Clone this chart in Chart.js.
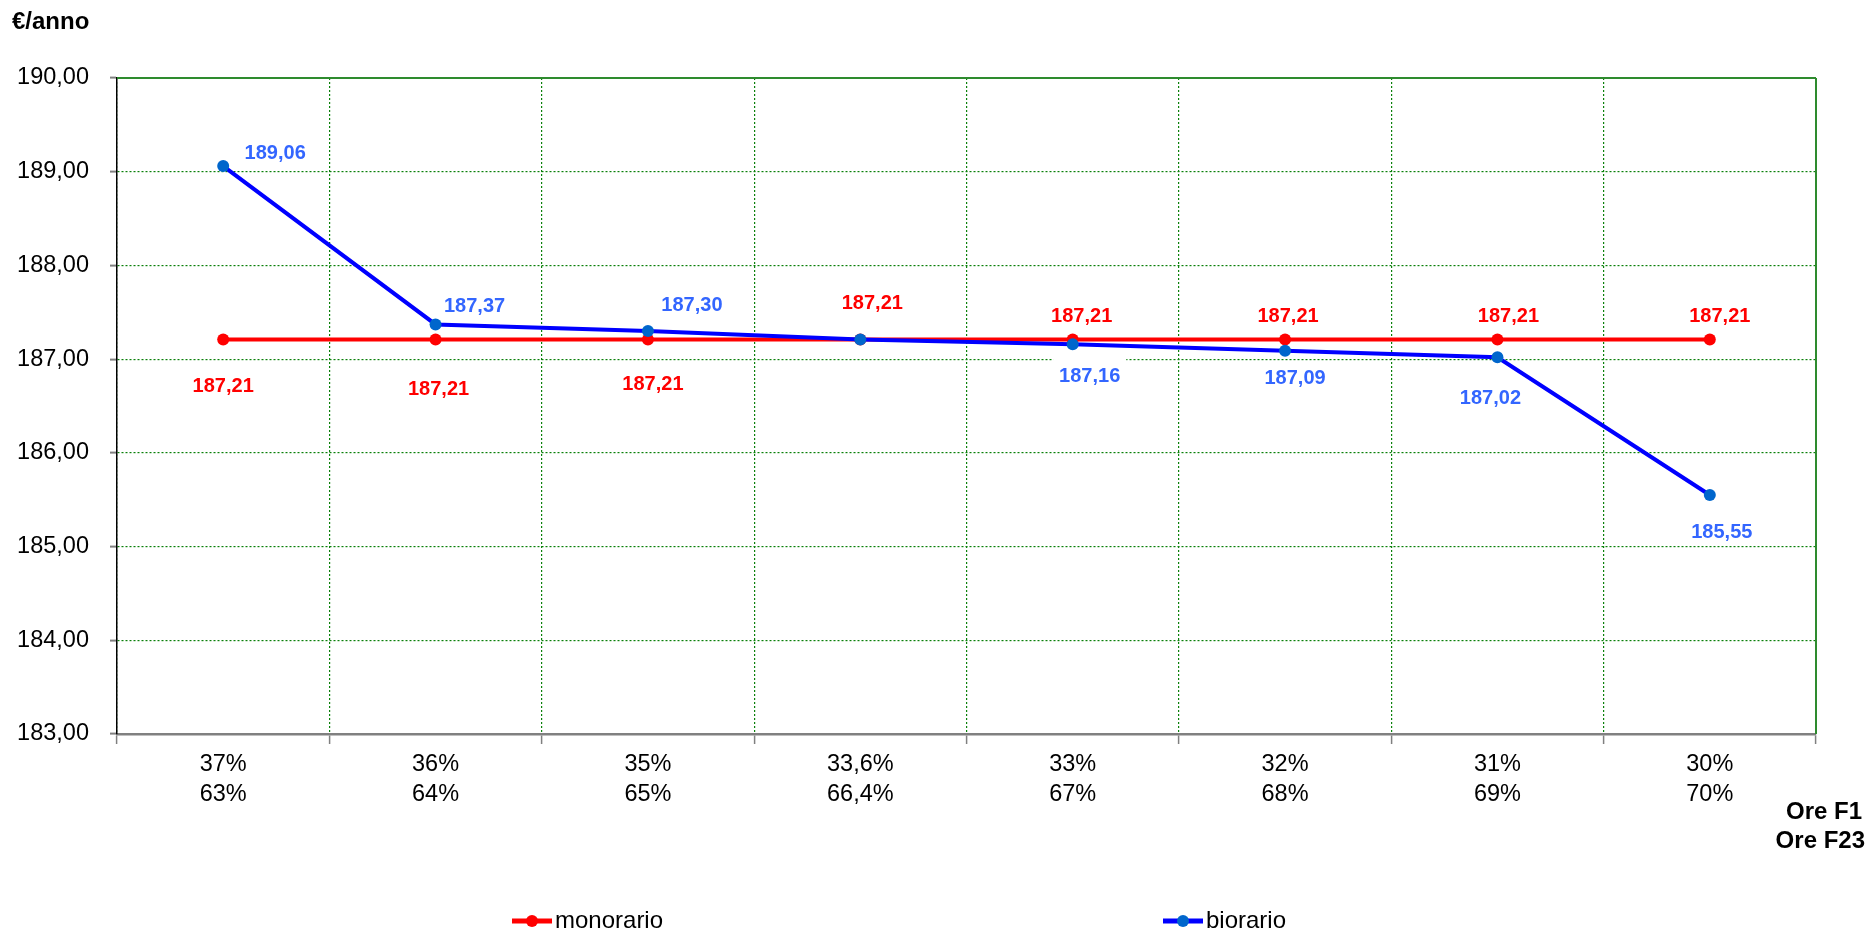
<!DOCTYPE html>
<html><head><meta charset="utf-8">
<script src="https://cdn.jsdelivr.net/npm/chart.js@4.4.0/dist/chart.umd.min.js"></script>
<style>html,body{margin:0;padding:0;background:#fff;overflow:hidden}#wrap{width:1870px;height:932px;position:relative}</style>
</head><body><div id="wrap"><canvas id="c" width="1870" height="932"></canvas></div>
<script>
// ---- data ----
const oreF1 = ['37%','36%','35%','33,6%','33%','32%','31%','30%'];
const oreF23 = ['63%','64%','65%','66,4%','67%','68%','69%','70%'];
const monorario = [187.21,187.21,187.21,187.21,187.21,187.21,187.21,187.21];
const biorario = [189.06,187.37,187.30,187.21,187.16,187.09,187.02,185.55];
const yMin = 183, yMax = 190, yStep = 1;
const yAxisTitle = '€/anno';
const xAxisTitle = ['Ore F1','Ore F23'];
const seriesNames = ['monorario','biorario'];

const FONT = '"Liberation Sans", Arial, sans-serif';
const fmt = v => v.toFixed(2).replace('.', ',');
const categories = oreF1.map((a,i)=>[a, oreF23[i]]);

// label placement (offsets from point, px): [dx, dy, whiteBackground]
const monoLabelPos = [[0,47],[3,50],[5,45],[12,-36],[9,-23],[3,-23],[11,-23],[10,-23]];
const bioLabelPos = [[52,-13],[39,-18],[44,-26],null,[17,32,true],[10,28],[-7,41],[12,37]];

const valueLabels = {
  id:'valueLabels',
  afterDatasetsDraw(chart){
    const ctx = chart.ctx;
    chart.data.datasets.forEach((ds,di)=>{
      const meta = chart.getDatasetMeta(di);
      meta.data.forEach((pt,i)=>{
        const off = ds.labelPos[i]; if(!off) return;
        const x = pt.x+off[0], y = pt.y+off[1];
        const txt = fmt(ds.data[i]);
        ctx.save();
        ctx.font = 'bold 20px '+FONT;
        ctx.textAlign='center'; ctx.textBaseline='middle';
        if(off[2]){
          const w = ctx.measureText(txt).width;
          ctx.fillStyle='#fff'; ctx.fillRect(x-w/2-6, y-18, w+12, 36);
        }
        ctx.fillStyle = ds.labelColor;
        ctx.fillText(txt, x, y);
        ctx.restore();
      });
    });
  }
};

const frame = {
  id:'frame',
  beforeDatasetsDraw(chart){
    const {ctx, chartArea:a} = chart;
    ctx.save();
    ctx.strokeStyle='#2e8b2e'; ctx.lineWidth=2;
    ctx.beginPath(); ctx.moveTo(a.left, a.top); ctx.lineTo(a.right, a.top);
    ctx.moveTo(a.right, a.top); ctx.lineTo(a.right, a.bottom); ctx.stroke();
    ctx.restore();
  },
  afterDraw(chart){
    const {ctx} = chart;
    ctx.save();
    ctx.fillStyle='#000';
    ctx.font='bold 24px '+FONT;
    ctx.textAlign='left'; ctx.textBaseline='middle';
    ctx.fillText(yAxisTitle, 12, 22);
    ctx.textAlign='right';
    ctx.fillText(xAxisTitle[0], 1862, 812);
    ctx.fillText(xAxisTitle[1], 1865, 841);
    // legend
    const lx = [512, 1163], ly = 921;
    chart.data.datasets.forEach((ds,i)=>{
      ctx.strokeStyle = ds.borderColor; ctx.lineWidth = 5;
      ctx.beginPath(); ctx.moveTo(lx[i], ly); ctx.lineTo(lx[i]+40, ly); ctx.stroke();
      ctx.fillStyle = ds.pointBackgroundColor;
      ctx.beginPath(); ctx.arc(lx[i]+20, ly, 6, 0, Math.PI*2); ctx.fill();
      ctx.fillStyle='#000'; ctx.font='24px '+FONT; ctx.textAlign='left';
      ctx.fillText(ds.label, lx[i]+43, ly);
    });
    ctx.restore();
  }
};

new Chart(document.getElementById('c'), {
  type:'line',
  data:{
    labels: categories,
    datasets:[
      {label:seriesNames[0], data:monorario, borderColor:'#ff0000', backgroundColor:'#ff0000',
       pointBackgroundColor:'#ff0000', pointBorderColor:'#ff0000', borderWidth:4, pointRadius:6, pointBorderWidth:0,
       tension:0, order:2, labelColor:'#ff0000', labelPos:monoLabelPos},
      {label:seriesNames[1], data:biorario, borderColor:'#0000ff', backgroundColor:'#0066cc',
       pointBackgroundColor:'#0066cc', pointBorderColor:'#0066cc', borderWidth:4, pointRadius:6, pointBorderWidth:0,
       tension:0, order:1, labelColor:'#3366ff', labelPos:bioLabelPos}
    ]
  },
  options:{
    responsive:false, animation:false, devicePixelRatio:1,
    layout:{padding:{top:78, right:54, left:0, bottom:0}},
    plugins:{legend:{display:false}, tooltip:{enabled:false}, title:{display:false}},
    scales:{
      x:{
        type:'category', offset:true,
        grid:{offset:true, color:'#0a800a', lineWidth:1.2, drawTicks:true, tickLength:10, tickColor:'#808080', tickWidth:1.5},
        border:{display:true, color:'#808080', width:2.5, dash:[2,2]},
        ticks:{color:'#000', font:{family:FONT, size:23.5, lineHeight:'30px'}, padding:6, maxRotation:0, autoSkip:false},
        afterFit(s){ s.height = 198; }
      },
      y:{
        min:yMin, max:yMax,
        grid:{color:'#0a800a', lineWidth:1.2, tickLength:7, tickColor:'#808080', tickWidth:2},
        border:{display:true, color:'#000', width:1.5, dash:[2,2]},
        ticks:{stepSize:yStep, color:'#000', font:{family:FONT, size:23.5}, padding:21, callback:v=>fmt(v)},
        afterFit(s){ s.width = 117; }
      }
    }
  },
  plugins:[frame, valueLabels]
});
</script></body></html>
